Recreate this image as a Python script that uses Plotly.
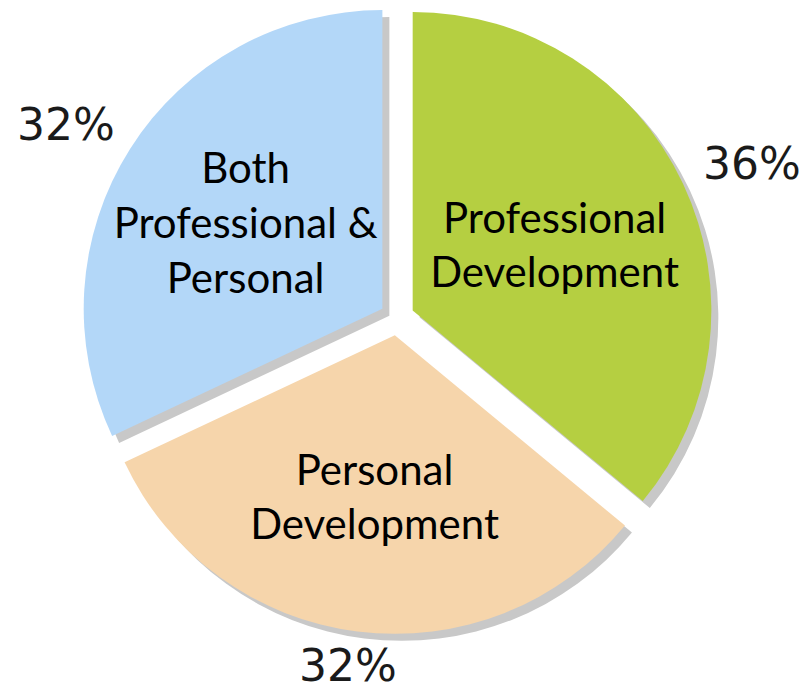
import math
import plotly.graph_objects as go

categories = ["Professional<br>Development", "Personal<br>Development", "Both<br>Professional &<br>Personal"]
values = [36, 32, 32]
percent_labels = ["36%", "32%", "32%"]
colors = ["#b5cf41", "#f6d5ab", "#b3d7f8"]

W, H = 808, 690
pull = 0.058
cx, cy, half = 397, 318, 316         # pie box centre / half size (px)
dx, dy = 7, 7                        # shadow offset (px)
lab_cy, lab_rx, lab_ry = 314, 392, 354   # ellipse for outside percent labels (px)

def dom(ox, oy):
    return dict(x=[(cx - half + ox) / W, (cx + half + ox) / W],
                y=[1 - (cy + half + oy) / H, 1 - (cy - half + oy) / H])

fig = go.Figure()
fig.add_trace(go.Pie(
    values=values, labels=categories, sort=False, direction="clockwise", rotation=0,
    pull=[pull] * 3, domain=dom(dx, dy),
    marker=dict(colors=["#c8c8c8"] * 3, line=dict(width=0)),
    textinfo="none", showlegend=False, hoverinfo="skip",
))
fig.add_trace(go.Pie(
    values=values, labels=categories, sort=False, direction="clockwise", rotation=0,
    pull=[pull] * 3, domain=dom(0, 0),
    marker=dict(colors=colors, line=dict(width=0)),
    textinfo="label", textposition="inside", insidetextorientation="horizontal",
    insidetextfont=dict(family="Lato", size=42, color="#000000"),
    showlegend=False,
))

# percent labels placed along each slice's bisector (derived from the data)
total = sum(values)
cum = 0
for v, t in zip(values, percent_labels):
    ang = 2 * math.pi * (cum + v / 2) / total
    cum += v
    px = cx + lab_rx * math.sin(ang)
    py = lab_cy - lab_ry * math.cos(ang)
    fig.add_annotation(x=px / W, y=1 - py / H, xref="paper", yref="paper",
                       text=t, showarrow=False, xanchor="center", yanchor="middle",
                       font=dict(family="DejaVu Sans", size=44, color="#1a1a1a"))

fig.update_layout(width=W, height=H, margin=dict(l=0, r=0, t=0, b=0),
                  paper_bgcolor="white", plot_bgcolor="white",
                  uniformtext=dict(minsize=42, mode="show"))
fig.write_html("out.html", config={"displayModeBar": False},
               post_script="document.body.style.margin='0';")
